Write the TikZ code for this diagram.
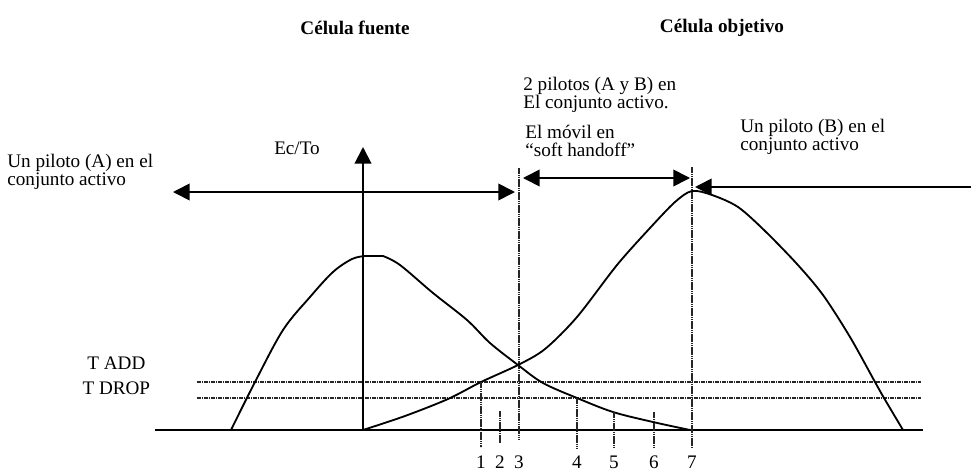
\documentclass[tikz,border=0pt]{standalone}
\usepackage{fontspec}
\setmainfont{Liberation Serif}
\usetikzlibrary{arrows.meta,calc}

\tikzset{
    texto/.style={font=\fontsize{11.5}{11}\selectfont,inner sep=0pt,align=left},
    titulo/.style={font=\fontsize{11.5}{11}\selectfont\bfseries,inner sep=0pt},
    umbral/.style={line width=1.1pt,dash pattern=on 1pt off 0.4pt,black!85},
    guia/.style={line width=0.8pt,dash pattern=on 1pt off 0.3pt,black!85},
    curva/.style={line width=1.1pt},
}

\begin{document}
\begin{tikzpicture}[x=0.6pt,y=-0.6pt,>={Triangle[length=10pt,width=10pt]}]
    \useasboundingbox (0,0) rectangle (971,470);
    % titles
    \node [titulo] (fuente) at (355,28) {Célula fuente};
    \node [titulo] (objetivo) at (722,28) {Célula objetivo};
    % labels
    \node [texto,anchor=west] (pilotAB) at (523,95) {2 pilotos (A y B) en\\El conjunto activo.};
    \node [texto,anchor=west] (movil) at (525,141) {El móvil en\\“soft handoff”};
    \node [texto,anchor=west] (pilotB) at (740,137) {Un piloto (B) en el\\conjunto activo};
    \node [texto] (ecto) at (297,148) {Ec/To};
    \node [texto,anchor=west] (pilotA) at (7,172) {Un piloto (A) en el\\conjunto activo};
    \node [texto,anchor=west] (tadd) at (87,363) {T ADD};
    \node [texto,anchor=west,below of=tadd,node distance=25*0.6pt] (tdrop) {T DROP};
    % key points
    \coordinate (origen) at (363,430);
    \coordinate (ejeTop) at (363,147);
    \coordinate (baseL) at (155,430);
    \coordinate (baseR) at (923,430);
    \coordinate (addL) at (197,382);
    \coordinate (addR) at (921,382);
    \coordinate (dropL) at (197,398);
    \coordinate (dropR) at (921,398);
    \coordinate (aL) at (173,192);
    \coordinate (aR) at (515,192);
    \coordinate (shL) at (523,178);
    \coordinate (shR) at (690,178);
    \coordinate (bR) at (971,187);
    \coordinate (bL) at (695,187);
    \coordinate (g3top) at (519,168);
    \coordinate (g3bot) at (519,440);
    \coordinate (g7top) at (692,167);
    \coordinate (g7bot) at (692,448);
    % thresholds and base line
    \draw [umbral] (addL) -- (addR);
    \draw [umbral] (dropL) -- (dropR);
    \draw [line width=1.2pt] (baseL) -- (baseR);
    % vertical guides
    \draw [guia] (g3top) -- (g3bot);
    \draw [guia] (g7top) -- (g7bot);
    % axis
    \draw [->,line width=1.2pt] (origen) -- (ejeTop);
    % active set arrows
    \draw [<->,line width=1pt] (aL) -- (aR);
    \draw [<->,line width=1pt] (shL) -- (shR);
    \draw [->,line width=1pt] (bR) -- (bL);
    % source cell
    \draw [curva] plot [smooth,tension=0.55] coordinates {(231,430) (255,382) (283,330) (310,297) (333,272) (352,259) (365,256)}
        -- (383,256)
        plot [smooth,tension=0.55] coordinates {(383,256) (400,265) (433,293) (467,320) (490,343) (518,365) (543,383) (577,398) (613,412) (653,422) (690,430)};
    % target cell
    \draw [curva] plot [smooth,tension=0.5] coordinates {(363,430) (405,416) (448,399) (481,382) (518,365) (545,349) (577,317) (617,265) (650,228) (675,202) (692,191)
        (712,195) (738,207) (765,231) (797,264) (823,295) (850,337) (875,382) (884,398) (903,430)};
    % ticks
    \coordinate (t1a) at (481,382); \coordinate (t1b) at (481,447);
    \coordinate (t2a) at (500,411); \coordinate (t2b) at (500,443);
    \coordinate (t4a) at (577,398); \coordinate (t4b) at (577,448);
    \coordinate (t5a) at (614,412); \coordinate (t5b) at (614,448);
    \coordinate (t6a) at (654,412); \coordinate (t6b) at (654,447);
    \draw [guia] (t1a) -- (t1b);
    \draw [guia] (t2a) -- (t2b);
    \draw [guia] (t4a) -- (t4b);
    \draw [guia] (t5a) -- (t5b);
    \draw [guia] (t6a) -- (t6b);
    \node [texto] (n1) at (481,462) {1};
    \node [texto] (n2) at (500,462) {2};
    \node [texto] (n3) at (519,462) {3};
    \node [texto] (n4) at (577,462) {4};
    \node [texto] (n5) at (614,462) {5};
    \node [texto] (n6) at (654,462) {6};
    \node [texto] (n7) at (692,462) {7};
\end{tikzpicture}
\end{document}
